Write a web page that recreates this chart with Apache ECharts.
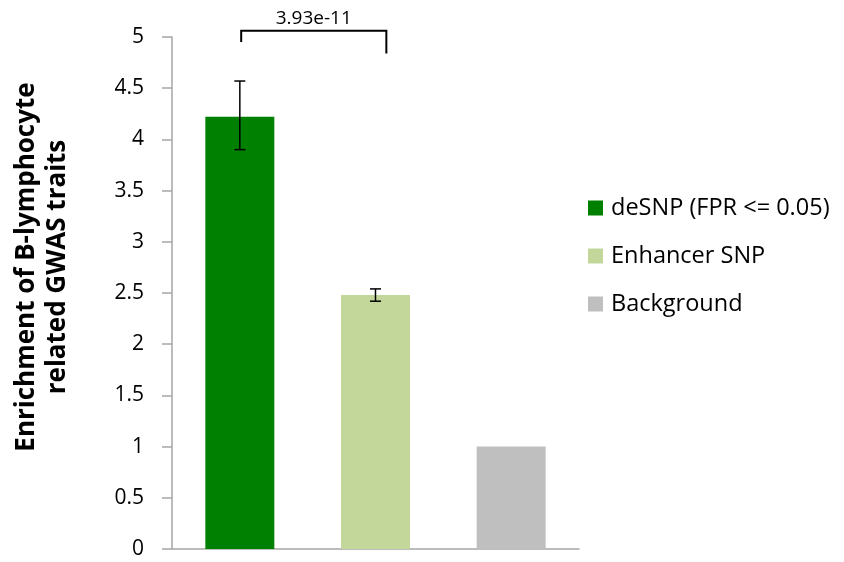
<!DOCTYPE html>
<html>
<head>
<meta charset="utf-8">
<script src="https://cdn.jsdelivr.net/npm/echarts@6/dist/echarts.min.js"></script>
<style>
  html, body { margin: 0; padding: 0; background: #fff; }
  #chart { width: 844px; height: 562px; }
</style>
</head>
<body>
<div id="chart"></div>
<script>
(function() {
  const chart = echarts.init(document.getElementById('chart'));

  // data
  const categories = ['deSNP (FPR <= 0.05)', 'Enhancer SNP', 'Background'];
  const enrichment = [4.22, 2.48, 1.0];
  const errLow = [3.90, 2.42, null];
  const errHigh = [4.57, 2.54, null];
  const colors = ['#008000', '#c4d79b', '#bfbfbf'];
  // significance bracket between the first two bars
  const bracketPair = [0, 1];
  const bracketLevels = [4.95, 5.06, 4.84]; // left leg end, top, right leg end
  const pValueText = '3.93e-11';

  const font = 'Open Sans';

  const barSeries = categories.map(function(name, i) {
    return {
      name: name,
      type: 'bar',
      barWidth: 69,
      barGap: '-100%',
      itemStyle: { color: colors[i] },
      data: enrichment.map(function(v, j) { return j === i ? v : '-'; })
    };
  });

  const errData = [];
  enrichment.forEach(function(v, i) {
    if (errLow[i] != null) errData.push([i, errLow[i], errHigh[i]]);
  });

  const errorSeries = {
    type: 'custom',
    name: 'error',
    silent: true,
    z: 10,
    encode: { x: 0, y: [1, 2] },
    data: errData,
    renderItem: function(params, api) {
      const x = api.value(0);
      const lo = api.coord([x, api.value(1)]);
      const hi = api.coord([x, api.value(2)]);
      const half = 5.5;
      const style = { stroke: '#000', lineWidth: 1.5 };
      return {
        type: 'group',
        children: [
          { type: 'line', shape: { x1: lo[0], y1: lo[1], x2: hi[0], y2: hi[1] }, style: style },
          { type: 'line', shape: { x1: lo[0] - half, y1: lo[1], x2: lo[0] + half, y2: lo[1] }, style: style },
          { type: 'line', shape: { x1: hi[0] - half, y1: hi[1], x2: hi[0] + half, y2: hi[1] }, style: style }
        ]
      };
    }
  };

  const bracketSeries = {
    type: 'custom',
    name: 'bracket',
    silent: true,
    clip: false,
    z: 10,
    data: [[bracketPair[0], bracketPair[1]]],
    encode: { x: 0 },
    renderItem: function(params, api) {
      const band = api.size([1, 0])[0];
      const a = api.coord([api.value(0), bracketLevels[0]]);
      const top = api.coord([api.value(0), bracketLevels[1]]);
      const b = api.coord([api.value(1), bracketLevels[2]]);
      const xl = a[0] + band * 0.01;
      const xr = b[0] + band * 0.08;
      return {
        type: 'group',
        children: [
          {
            type: 'polyline',
            shape: { points: [[xl, a[1]], [xl, top[1]], [xr, top[1]], [xr, b[1]]] },
            style: { stroke: '#000', lineWidth: 2, fill: null }
          },
          {
            type: 'text',
            x: (xl + xr) / 2,
            y: top[1] - 3,
            style: {
              text: pValueText,
              fill: '#000',
              font: '19px "' + font + '"',
              align: 'center',
              verticalAlign: 'bottom'
            }
          }
        ]
      };
    }
  };

  const option = {
    backgroundColor: '#fff',
    animation: false,
    grid: { left: 172, right: 265, top: 37, bottom: 13 },
    legend: {
      data: categories,
      orient: 'vertical',
      left: 588,
      top: 196,
      padding: 0,
      itemWidth: 15,
      itemHeight: 15,
      itemGap: 24,
      icon: 'rect',
      textStyle: { fontFamily: font, fontSize: 23.5, color: '#000', lineHeight: 24, padding: [0, 0, 0, 3] }
    },
    xAxis: {
      type: 'category',
      data: categories,
      axisLine: { lineStyle: { color: '#a6a6a6', width: 1.5 } },
      axisTick: { show: false },
      axisLabel: { show: false },
      splitLine: { show: false }
    },
    yAxis: {
      type: 'value',
      min: 0,
      max: 5,
      interval: 0.5,
      axisLine: { show: true, lineStyle: { color: '#a6a6a6', width: 1.5 } },
      axisTick: { show: true, length: 10, lineStyle: { color: '#a6a6a6', width: 1.5 } },
      splitLine: { show: false },
      axisLabel: { fontFamily: font, fontSize: 21, color: '#000', margin: 28 }
    },
    graphic: [
      {
        type: 'text',
        x: 42,
        y: 267,
        rotation: Math.PI / 2,
        style: {
          text: 'Enrichment of B-lymphocyte\nrelated GWAS traits',
          font: 'bold 26px "' + font + '"',
          fill: '#000',
          align: 'center',
          verticalAlign: 'middle',
          lineHeight: 31
        }
      }
    ],
    series: barSeries.concat([errorSeries, bracketSeries])
  };

  chart.setOption(option);
}());
</script>
</body>
</html>
